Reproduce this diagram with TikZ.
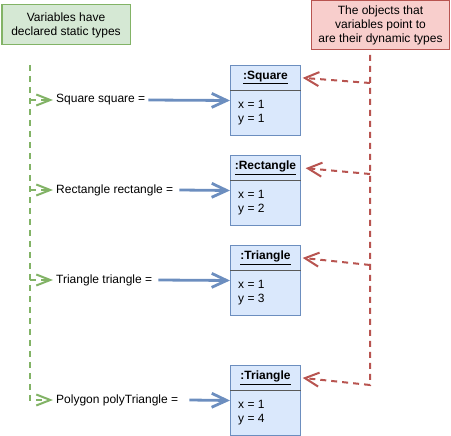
\documentclass[tikz,border=0pt]{standalone}
\usepackage{fontspec}
\setmainfont{Liberation Sans}
\usetikzlibrary{arrows.meta}
\definecolor{greenfill}{HTML}{D5E8D4}
\definecolor{greenline}{HTML}{82B366}
\definecolor{redfill}{HTML}{F8CECC}
\definecolor{redline}{HTML}{B85450}
\definecolor{bluefill}{HTML}{DAE8FC}
\definecolor{blueline}{HTML}{6C8EBF}
\begin{document}
\begin{tikzpicture}[x=1pt,y=-1pt,
    font=\fontsize{12}{14}\selectfont,
    note/.style={draw, line width=1pt, align=center, inner sep=0pt},
    objbox/.style={draw=blueline, fill=bluefill, line width=1pt, minimum width=70pt, minimum height=70pt, inner sep=0pt},
    objhead/.style={minimum width=70pt, minimum height=25pt, inner sep=0pt, font=\fontsize{12}{14}\selectfont\bfseries},
    attrs/.style={align=left, inner sep=2pt},
    divider/.style={draw=black!65, line width=1.5pt},
    refarrow/.style={draw=blueline, line width=2.8pt, -{Straight Barb[length=15pt,width=14pt]}},
    statictype/.style={draw=greenline, line width=2pt, dash pattern=on 6pt off 5pt, -{Straight Barb[length=14pt,width=11pt]}},
    dyntype/.style={draw=redline, line width=2pt, dash pattern=on 6pt off 5pt, -{Straight Barb[length=14pt,width=14pt]}}]
  \useasboundingbox (0,0) rectangle (451,436);
  % notes
  \node [note, draw=greenline, fill=greenfill, minimum width=128pt, minimum height=40pt] (static) at (66,25) {Variables have\\declared static types};
  \node [note, draw=redline, fill=redfill, minimum width=138pt, minimum height=49pt] (dynamic) at (380.5,25) {The objects that\\variables point to\\are their dynamic types};
  % objects
  \node [objbox, anchor=north west] (sqbox) at (230,65) {};
  \node [objhead, anchor=north] (sqhead) at (sqbox.north) {\underline{:Square}};
  \draw [divider] (sqhead.south west) -- (sqhead.south east);
  \node [attrs, anchor=north west] (sqattr) at ([xshift=6pt,yshift=-33pt]sqbox.north west) {x = 1\\y = 1};
  \node [objbox, anchor=north west] (rectbox) at (230,155) {};
  \node [objhead, anchor=north] (recthead) at (rectbox.north) {\underline{:Rectangle}};
  \draw [divider] (recthead.south west) -- (recthead.south east);
  \node [attrs, anchor=north west] (rectattr) at ([xshift=6pt,yshift=-33pt]rectbox.north west) {x = 1\\y = 2};
  \node [objbox, anchor=north west] (tribox) at (230,245) {};
  \node [objhead, anchor=north] (trihead) at (tribox.north) {\underline{:Triangle}};
  \draw [divider] (trihead.south west) -- (trihead.south east);
  \node [attrs, anchor=north west] (triattr) at ([xshift=6pt,yshift=-33pt]tribox.north west) {x = 1\\y = 3};
  \node [objbox, anchor=north west] (polybox) at (230,365) {};
  \node [objhead, anchor=north] (polyhead) at (polybox.north) {\underline{:Triangle}};
  \draw [divider] (polyhead.south west) -- (polyhead.south east);
  \node [attrs, anchor=north west] (polyattr) at ([xshift=6pt,yshift=-33pt]polybox.north west) {x = 1\\y = 4};
  % variables
  \node [anchor=west, inner sep=3pt] (sqvar) at (53,100) {Square square =};
  \node [anchor=west, inner sep=3pt] (rectvar) at (53,190) {Rectangle rectangle =};
  \node [anchor=west, inner sep=3pt] (trivar) at (53,280) {Triangle triangle =};
  \node [anchor=west, inner sep=3pt] (polyvar) at (53,400) {Polygon polyTriangle =};
  \draw [refarrow] (sqvar.east) -- (sqbox.west);
  \draw [refarrow] ([xshift=3pt]rectvar.east) -- (rectbox.west);
  \draw [refarrow] ([xshift=3pt]trivar.east) -- (tribox.west);
  \draw [refarrow] ([xshift=8pt]polyvar.east) -- (polybox.west);
  % static types
  \coordinate (gtop) at (30,65);
  \coordinate (gsq) at (30,100);
  \coordinate (grect) at (30,190);
  \coordinate (gtri) at (30,280);
  \coordinate (gpoly) at (30,400);
  \draw [statictype] (gtop) -- (gpoly) -- (sqvar.west |- gpoly);
  \draw [statictype] (gsq) -- (sqvar.west);
  \draw [statictype] (grect) -- (rectvar.west);
  \draw [statictype] (gtri) -- (trivar.west);
  % dynamic types
  \coordinate (rtop) at (370,55);
  \coordinate (rsq) at (370,83);
  \coordinate (rrect) at (370,174);
  \coordinate (rtri) at (370,265);
  \coordinate (rpoly) at (370,385);
  \draw [dyntype, shorten >=2pt] (rtop) -- (rpoly) -- (polyhead.east);
  \draw [dyntype, shorten >=2pt] (rsq) -- (sqhead.east);
  \draw [dyntype, shorten >=5pt] (rrect) -- (recthead.east);
  \draw [dyntype, shorten >=2pt] (rtri) -- (trihead.east);
\end{tikzpicture}
\end{document}
